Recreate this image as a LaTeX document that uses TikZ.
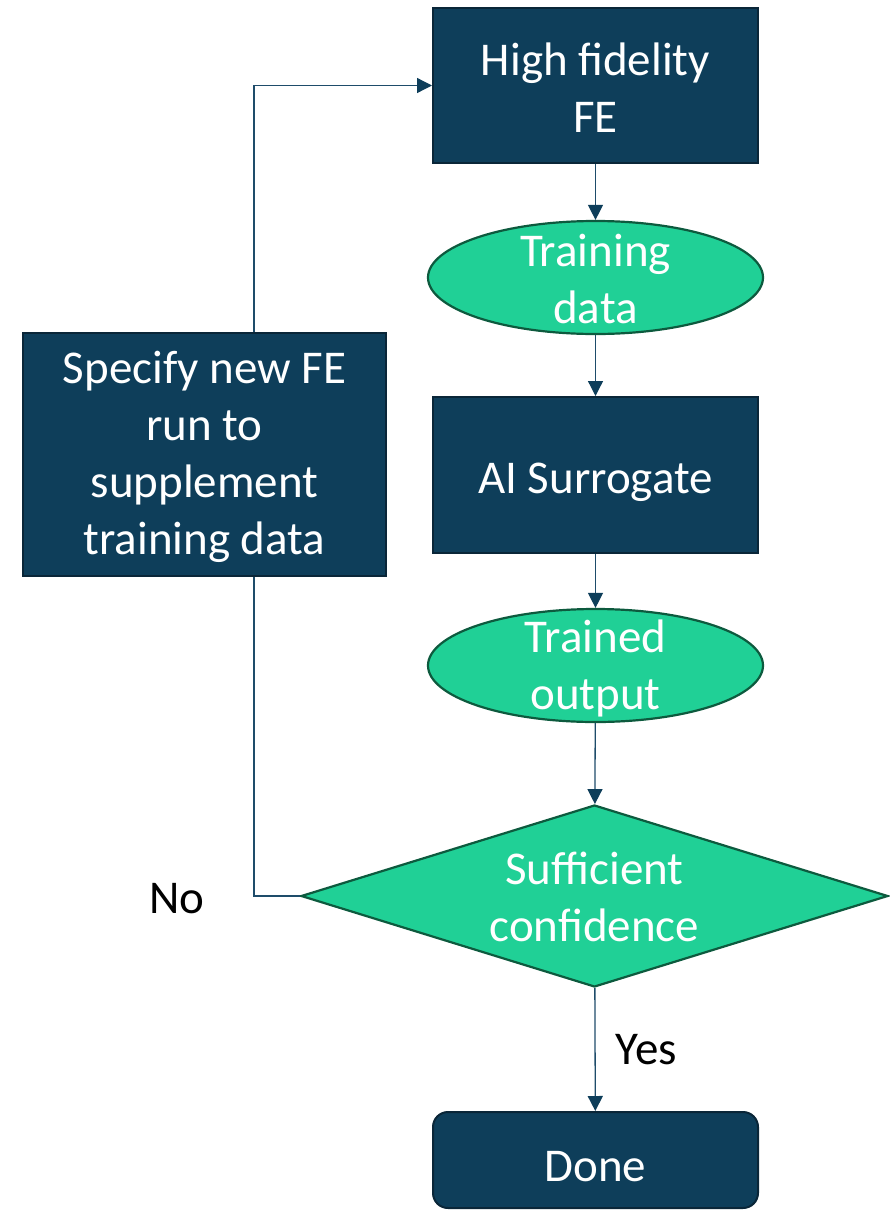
\documentclass[tikz,border=0pt]{standalone}
\usepackage{fontspec}
\setmainfont{Carlito}
\usetikzlibrary{arrows.meta,positioning,shapes.geometric}
\definecolor{navy}{HTML}{0E3E5A}
\definecolor{navyedge}{HTML}{0A2638}
\definecolor{mint}{HTML}{20D096}
\definecolor{mintedge}{HTML}{0D5A3E}
\definecolor{wire}{HTML}{1E4C6A}
\tikzset{
  proc/.style  ={draw=navyedge,fill=navy,line width=2pt,text=white,align=center,inner sep=0pt},
  oval/.style  ={ellipse,draw=mintedge,fill=mint,line width=2.2pt,text=white,align=center,
                 minimum width=335pt,minimum height=113pt,inner xsep=0pt,inner ysep=-20pt},
  decide/.style={diamond,draw=mintedge,fill=mint,line width=2.2pt,text=white,align=center,
                 minimum width=587pt,minimum height=182pt,inner sep=0pt,aspect=3.2},
  ar/.style    ={wire,line width=1.3pt,-{Triangle[length=15pt,width=15pt,color=navy]}},
  link/.style  ={wire,line width=1.3pt},
  lbl/.style   ={text=black,inner sep=0pt},
}

\begin{document}
\begin{tikzpicture}[x=1pt,y=-1pt,font=\fontsize{47}{57}\selectfont]
  \useasboundingbox (0,0) rectangle (889,1210);
  \node[proc,minimum width=325pt,minimum height=155pt] (hifi) at (595.5,85.5)
    {\rule{0pt}{36pt}High fidelity\\FE};
  \node[oval] (train) at (595.5,277.5) {\rule{0pt}{36pt}Training\\data};
  \node[proc,minimum width=325pt,minimum height=156pt,text height=41pt,text depth=5pt]
    (surr) at (595.5,475) {AI Surrogate};
  \node[oval] (out) at (595.5,665.5) {\rule{0pt}{38pt}Trained\\output};
  \node[decide] (conf) at (594.5,896) {\rule{0pt}{35pt}Sufficient\\confidence};
  \node[proc,rounded corners=15pt,minimum width=325pt,minimum height=96pt,text height=42pt,text depth=0pt]
    (done) at (595.5,1160) {Done};
  \node[proc,minimum width=363pt,minimum height=243pt] (spec) at (204.5,454.5)
    {\rule{0pt}{37pt}Specify new FE\\run to\\supplement\\training data};

  \draw[ar] (hifi) -- (train);
  \draw[ar] (train) -- (surr);
  \draw[ar] (surr) -- (out);
  \draw[ar] (out) -- (conf);
  \draw[ar] (conf) -- node[lbl,right=20pt]{Yes} (done);
  % loop back for more data
  \draw[link] (conf.west) -| node[lbl,pos=0.5,left=49pt,yshift=-3pt]{No} ([xshift=49.5pt]spec.south);
  \draw[ar] ([xshift=49.5pt]spec.north) |- (hifi.west);
\end{tikzpicture}
\end{document}
